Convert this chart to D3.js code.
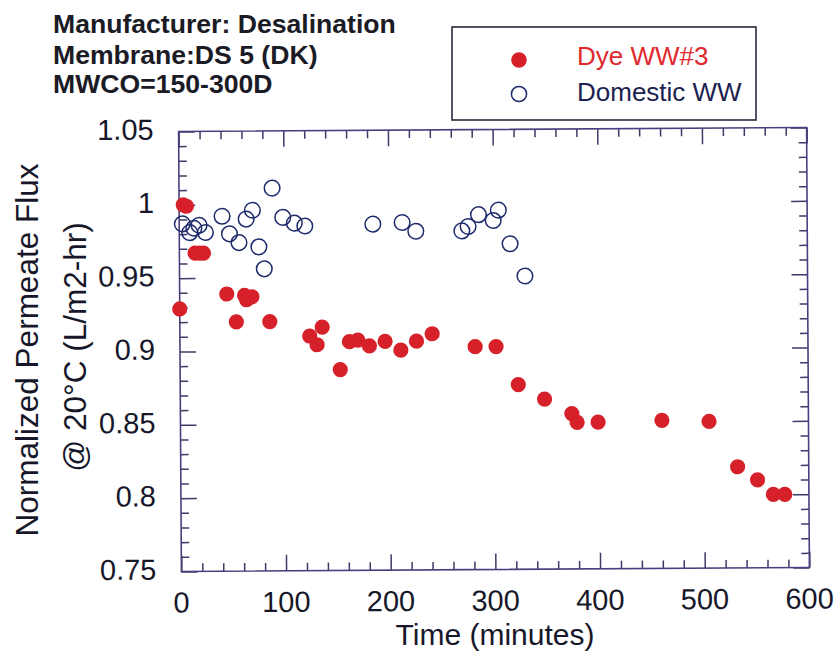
<!DOCTYPE html>
<html>
<head>
<meta charset="utf-8">
<script src="https://cdn.jsdelivr.net/npm/d3@7/dist/d3.min.js"></script>
<style>
  html, body { margin: 0; padding: 0; background: #ffffff; }
  svg { display: block; }
  text { font-family: "Liberation Sans", Arial, Helvetica, sans-serif; }
</style>
</head>
<body>
<svg id="chart" width="839" height="651"></svg>
<script>
// Dye wastewater #3 run: time (minutes) and normalized flux
const dyeTime = [0, 4, 7, 15, 19, 23, 45, 54, 62, 64, 69, 86, 124, 131, 136, 153, 162, 170,
                 181, 196, 211, 226, 241, 282, 302, 323, 348, 374, 379, 399, 460, 505, 532, 551, 566, 577];
const dyeFlux = [0.929, 1.000, 0.999, 0.967, 0.967, 0.967, 0.939, 0.920, 0.938, 0.935, 0.937, 0.920,
                 0.910, 0.904, 0.916, 0.887, 0.906, 0.907, 0.903, 0.906, 0.900, 0.906, 0.911, 0.902,
                 0.902, 0.876, 0.866, 0.856, 0.850, 0.850, 0.851, 0.850, 0.819, 0.810, 0.800, 0.800];

// Domestic wastewater run
const domTime = [3, 10, 14, 19, 25, 41, 48, 57, 64, 70, 76, 81, 89, 99, 110, 120,
                 185, 213, 226, 270, 276, 286, 300, 305, 316, 330];
const domFlux = [0.987, 0.981, 0.984, 0.986, 0.981, 0.992, 0.980, 0.974, 0.990, 0.996, 0.971, 0.956,
                 1.011, 0.991, 0.987, 0.985, 0.986, 0.987, 0.981, 0.981, 0.984, 0.992, 0.988, 0.995,
                 0.972, 0.950];

const xTickValues = [0, 100, 200, 300, 400, 500, 600];
const yTickValues = [0.75, 0.8, 0.85, 0.9, 0.95, 1, 1.05];
const yTickLabels = ["0.75", "0.8", "0.85", "0.9", "0.95", "1", "1.05"];

const infoLines = ["Manufacturer: Desalination", "Membrane:DS 5 (DK)", "MWCO=150-300D"];
const seriesNames = ["Dye WW#3", "Domestic WW"];

const svg = d3.select("#chart");

const plot = { left: 180, right: 808, top: 129.5, bottom: 569.5 };
const x = d3.scaleLinear().domain([0, 600]).range([plot.left, plot.right]);
const y = d3.scaleLinear().domain([0.75, 1.05]).range([plot.bottom, plot.top]);

const frameColor = "#4a3f7e";
const tickColor = "#3d3a68";
const red = "#d6202a";
const navy = "#1d2a6b";
const textColor = "#17172a";

// the plotting frame sits very slightly tilted on the page
const g = svg.append("g")
  .attr("transform", "rotate(-0.365," + ((plot.left + plot.right) / 2) + "," + ((plot.top + plot.bottom) / 2) + ")");

function styleAxis(sel) {
  sel.select(".domain").remove();
  sel.selectAll(".tick line").attr("stroke", tickColor).attr("stroke-width", 1.5);
  sel.selectAll(".tick text").remove();
}

const minorX = d3.range(0, 601, 20).filter(v => v % 100 !== 0);
const minorY = d3.range(75, 106, 1).map(v => v / 100).filter(v => Math.round(v * 100) % 5 !== 0);

// inward ticks on all four sides
g.append("g").attr("transform", `translate(0,${plot.bottom})`)
  .call(d3.axisBottom(x).tickValues(minorX).tickSizeInner(-8).tickSizeOuter(0)).call(styleAxis);
g.append("g").attr("transform", `translate(0,${plot.bottom})`)
  .call(d3.axisBottom(x).tickValues(xTickValues).tickSizeInner(-16).tickSizeOuter(0)).call(styleAxis);
g.append("g").attr("transform", `translate(0,${plot.top})`)
  .call(d3.axisTop(x).tickValues(minorX).tickSizeInner(-8).tickSizeOuter(0)).call(styleAxis);
g.append("g").attr("transform", `translate(0,${plot.top})`)
  .call(d3.axisTop(x).tickValues(xTickValues).tickSizeInner(-16).tickSizeOuter(0)).call(styleAxis);
g.append("g").attr("transform", `translate(${plot.left},0)`)
  .call(d3.axisLeft(y).tickValues(minorY).tickSizeInner(-8).tickSizeOuter(0)).call(styleAxis);
g.append("g").attr("transform", `translate(${plot.left},0)`)
  .call(d3.axisLeft(y).tickValues(yTickValues).tickSizeInner(-16).tickSizeOuter(0)).call(styleAxis);
g.append("g").attr("transform", `translate(${plot.right},0)`)
  .call(d3.axisRight(y).tickValues(minorY).tickSizeInner(-8).tickSizeOuter(0)).call(styleAxis);
g.append("g").attr("transform", `translate(${plot.right},0)`)
  .call(d3.axisRight(y).tickValues(yTickValues).tickSizeInner(-16).tickSizeOuter(0)).call(styleAxis);

// frame
g.append("rect")
  .attr("x", plot.left).attr("y", plot.top)
  .attr("width", plot.right - plot.left).attr("height", plot.bottom - plot.top)
  .attr("fill", "none").attr("stroke", frameColor).attr("stroke-width", 1.6);

// tick labels
g.append("g").selectAll("text").data(xTickValues).join("text")
  .attr("x", d => x(d)).attr("y", plot.bottom + 41)
  .attr("text-anchor", "middle").attr("font-size", 29).attr("fill", textColor)
  .text(d => d);
g.append("g").selectAll("text").data(yTickValues).join("text")
  .attr("x", 155).attr("y", d => y(d) - 2.5).attr("dy", "0.36em")
  .attr("text-anchor", "end").attr("font-size", 29).attr("fill", textColor)
  .text((d, i) => yTickLabels[i]);

// data marks
const dye = dyeTime.map((t, i) => ({ t, v: dyeFlux[i] }));
const dom = domTime.map((t, i) => ({ t, v: domFlux[i] }));

g.append("g").selectAll("circle").data(dye).join("circle")
  .attr("cx", d => x(d.t)).attr("cy", d => y(d.v)).attr("r", 7.6)
  .attr("fill", red);
g.append("g").selectAll("circle").data(dom).join("circle")
  .attr("cx", d => x(d.t)).attr("cy", d => y(d.v)).attr("r", 7.8)
  .attr("fill", "none").attr("stroke", navy).attr("stroke-width", 1.5);

// axis titles
svg.append("text")
  .attr("x", 495).attr("y", 644.5).attr("text-anchor", "middle")
  .attr("font-size", 30).attr("fill", textColor)
  .text("Time (minutes)");
svg.append("text")
  .attr("transform", "translate(38,350) rotate(-90)")
  .attr("text-anchor", "middle").attr("font-size", 31.5).attr("fill", textColor)
  .text("Normalized Permeate Flux");
svg.append("text")
  .attr("transform", "translate(86,347) rotate(-90)")
  .attr("text-anchor", "middle").attr("font-size", 31.5).attr("fill", textColor)
  .text("@ 20°C (L/m2-hr)");

// membrane information block
svg.append("g").selectAll("text").data(infoLines).join("text")
  .attr("x", 53).attr("y", (d, i) => [33, 64, 93][i])
  .attr("font-size", 26.6).attr("font-weight", "bold").attr("fill", "#1b1b26")
  .text(d => d);

// legend
const legend = svg.append("g");
legend.append("rect")
  .attr("x", 452).attr("y", 27).attr("width", 304).attr("height", 93)
  .attr("fill", "#ffffff").attr("stroke", "#2b2a3c").attr("stroke-width", 1.6);
legend.append("circle").attr("cx", 519).attr("cy", 60).attr("r", 7.8).attr("fill", red);
legend.append("circle").attr("cx", 519).attr("cy", 94).attr("r", 7.6)
  .attr("fill", "none").attr("stroke", navy).attr("stroke-width", 1.5);
legend.append("text").attr("x", 577).attr("y", 65)
  .attr("font-size", 26).attr("fill", "#e0282e").text(seriesNames[0]);
legend.append("text").attr("x", 577).attr("y", 100.5)
  .attr("font-size", 26).attr("fill", "#1c2250").text(seriesNames[1]);
</script>
</body>
</html>
